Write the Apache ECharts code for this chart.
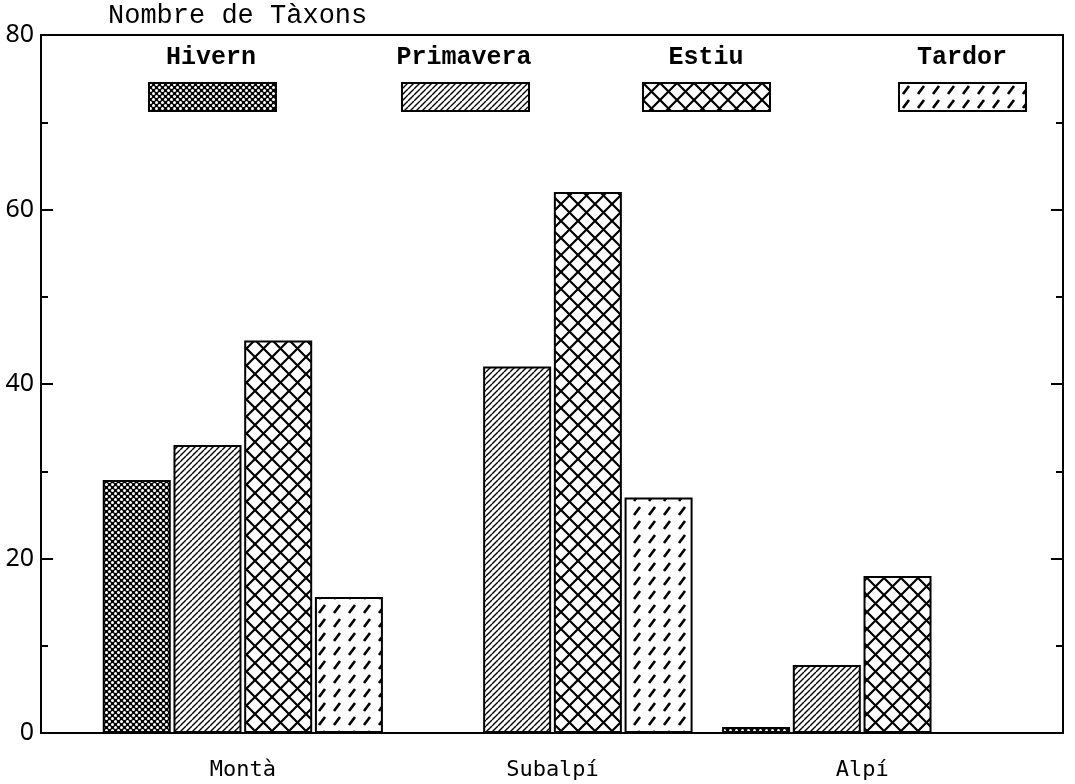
<!DOCTYPE html>
<html>
<head>
<meta charset="utf-8">
<script src="https://cdn.jsdelivr.net/npm/echarts@6/dist/echarts.min.js"></script>
<style>
  html, body { margin: 0; padding: 0; background: #fff; }
  #chart { width: 1075px; height: 784px; }
</style>
</head>
<body>
<div id="chart"></div>
<script>
var categories = ['Montà', 'Subalpí', 'Alpí'];
var seasons = ['Hivern', 'Primavera', 'Estiu', 'Tardor'];
var hivern = [29, '-', 0.7];
var primavera = [33, 42, 7.8];
var estiu = [45, 62, 18];
var tardor = [15.6, 27, '-'];
var yTicks = { min: 0, max: 80, interval: 20 };

// hatch fills, drawn on small canvases and repeated
function tile(w, h, draw) {
  var c = document.createElement('canvas');
  c.width = w; c.height = h;
  var g = c.getContext('2d');
  g.fillStyle = '#fff';
  g.fillRect(0, 0, w, h);
  g.strokeStyle = '#000';
  g.fillStyle = '#000';
  draw(g, w, h);
  return { image: c, repeat: 'repeat' };
}
function slash(g, s) {
  g.beginPath();
  for (var k = -1; k <= 1; k++) { g.moveTo(k * s, s); g.lineTo(k * s + s, 0); }
  g.stroke();
}
function backslash(g, s) {
  g.beginPath();
  for (var k = -1; k <= 1; k++) { g.moveTo(k * s, 0); g.lineTo(k * s + s, s); }
  g.stroke();
}

var fills = [
  tile(6, 6, function (g) {
    g.fillRect(0, 0, 6, 6);
    g.fillStyle = '#fff';
    g.beginPath(); g.arc(1.5, 1.5, 1.5, 0, Math.PI * 2); g.fill();
    g.beginPath(); g.arc(4.5, 4.5, 1.5, 0, Math.PI * 2); g.fill();
  }),
  tile(6, 6, function (g) { g.lineWidth = 1.4; slash(g, 6); }),
  tile(17, 17, function (g) { g.lineWidth = 2.2; slash(g, 17); backslash(g, 17); }),
  tile(15, 14, function (g) {
    g.lineWidth = 2.6;
    g.beginPath(); g.moveTo(4, 11); g.lineTo(10, 3); g.stroke();
  })
];
var seriesData = [hivern, primavera, estiu, tardor];
var legendX = [148, 401, 642, 898];
var labelX = [211, 464, 706, 962];

var myChart = echarts.init(document.getElementById('chart'));

var option = {
  animation: false,
  backgroundColor: '#fff',
  grid: [
    { left: 41, right: 12, top: 35, bottom: 51, show: true, borderColor: '#000', borderWidth: 2, backgroundColor: 'transparent' },
    { left: 88, right: 58, top: 35, bottom: 51 }
  ],
  legend: seasons.map(function (s, i) {
    return {
      data: [s],
      left: legendX[i],
      top: 82,
      padding: 0,
      itemWidth: 127,
      itemHeight: 28,
      icon: 'rect',
      selectedMode: false,
      formatter: function () { return ''; }
    };
  }),
  graphic: seasons.map(function (s, i) {
    return {
      type: 'text',
      x: labelX[i],
      y: 58,
      style: {
        text: s,
        fill: '#000',
        font: 'bold 25px "Liberation Mono"',
        textAlign: 'center',
        textVerticalAlign: 'middle'
      }
    };
  }),
  xAxis: [
    { type: 'value', gridIndex: 0, show: false, min: 0, max: 1 },
    {
      type: 'category',
      gridIndex: 1,
      data: categories,
      axisLine: { show: false },
      axisTick: { show: false },
      axisLabel: { margin: 26, color: '#000', fontFamily: 'DejaVu Sans Mono', fontSize: 22 }
    }
  ],
  yAxis: [
    {
      type: 'value',
      gridIndex: 0,
      min: yTicks.min,
      max: yTicks.max,
      interval: yTicks.interval,
      name: 'Nombre de Tàxons',
      nameLocation: 'end',
      nameGap: 6,
      nameTextStyle: { align: 'left', padding: [0, 0, 0, 67], color: '#000', fontFamily: 'Liberation Mono', fontSize: 27 },
      axisLine: { show: true, lineStyle: { color: '#000', width: 2 } },
      axisTick: { show: true, inside: true, length: 12, lineStyle: { color: '#000', width: 2 } },
      minorTick: { show: true, splitNumber: 2, length: 7, lineStyle: { color: '#000', width: 2 } },
      splitLine: { show: false },
      axisLabel: { margin: 7, color: '#000', fontFamily: 'Noto Sans', fontSize: 25 }
    },
    {
      type: 'value',
      gridIndex: 0,
      position: 'right',
      min: yTicks.min,
      max: yTicks.max,
      interval: yTicks.interval,
      axisLine: { show: true, lineStyle: { color: '#000', width: 2 } },
      axisTick: { show: true, inside: true, length: 12, lineStyle: { color: '#000', width: 2 } },
      minorTick: { show: true, splitNumber: 2, length: 7, lineStyle: { color: '#000', width: 2 } },
      splitLine: { show: false },
      axisLabel: { show: false }
    },
    { type: 'value', gridIndex: 1, min: yTicks.min, max: yTicks.max, show: false }
  ],
  series: seasons.map(function (s, i) {
    return {
      name: s,
      type: 'bar',
      xAxisIndex: 1,
      yAxisIndex: 2,
      barWidth: 68,
      barGap: '4%',
      data: seriesData[i],
      itemStyle: { color: fills[i], borderColor: '#000', borderWidth: 2 }
    };
  })
};

myChart.setOption(option);
</script>
</body>
</html>
